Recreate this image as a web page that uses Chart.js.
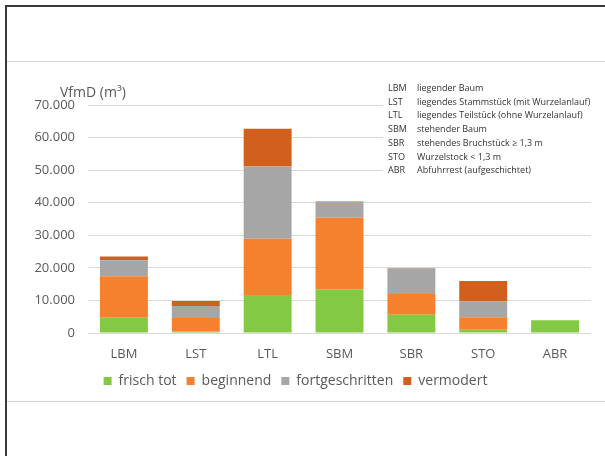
<!DOCTYPE html>
<html>
<head>
<meta charset="utf-8">
<script src="https://cdn.jsdelivr.net/npm/chart.js@4"></script>
<style>
  body { margin: 0; width: 605px; height: 456px; overflow: hidden; background: #fff; font-family: 'Open Sans', sans-serif; }
  .frame { position: absolute; left: 5px; top: 5px; width: 620px; height: 470px; border-top: 2px solid #3a3a3a; border-left: 2px solid #3a3a3a; }
  .rule { position: absolute; left: 7px; width: 600px; height: 1px; background: #d4d4d4; }
  #box { position: absolute; left: 0; top: 63px; width: 605px; height: 337px; }
</style>
</head>
<body>
<div class="frame"></div>
<div class="rule" style="top:61px"></div>
<div class="rule" style="top:401px"></div>
<div id="box"><canvas id="chart"></canvas></div>
<script>
const categories = ['LBM', 'LST', 'LTL', 'SBM', 'SBR', 'STO', 'ABR']
const frischTot = [4700, 500, 11700, 13400, 5600, 1000, 3900]
const beginnend = [12700, 4100, 17200, 22000, 6400, 3800, 0]
const fortgeschritten = [4900, 3700, 22200, 4800, 7800, 4900, 0]
const vermodert = [1200, 1500, 11600, 200, 150, 6250, 0]
const yTicks = [0, 10000, 20000, 30000, 40000, 50000, 60000, 70000]

const abbrevs = ['LBM', 'LST', 'LTL', 'SBM', 'SBR', 'STO', 'ABR']
const meanings = [
  'liegender Baum',
  'liegendes Stammstück (mit Wurzelanlauf)',
  'liegendes Teilstück (ohne Wurzelanlauf)',
  'stehender Baum',
  'stehendes Bruchstück ≥ 1,3 m',
  'Wurzelstock < 1,3 m',
  'Abfuhrrest (aufgeschichtet)'
]

const textColor = '#595959'

// thousands with a dot, e.g. 70.000
function fmt(v) {
  return String(v).replace(/\B(?=(\d{3})+(?!\d))/g, '.')
}

// axis caption on top and the key of abbreviations in the corner
const extras = {
  id: 'extras',
  afterDraw(chart) {
    const ctx = chart.ctx
    ctx.save()
    ctx.fillStyle = textColor
    ctx.font = '14px "Open Sans"'
    ctx.textBaseline = 'middle'
    ctx.textAlign = 'left'
    ctx.fillText('VfmD (m³)', 60, 30)

    ctx.fillStyle = '#fff'
    ctx.fillRect(383, 14, 222, 106)
    ctx.fillStyle = '#333'
    ctx.font = '9px "Open Sans"'
    abbrevs.forEach((a, i) => {
      const y = 25.5 + i * 13.7
      ctx.fillText(a, 388, y)
      ctx.fillText(meanings[i], 417, y, 184)
    })
    ctx.restore()
  }
}

new Chart(document.getElementById('chart'), {
  type: 'bar',
  data: {
    labels: categories,
    datasets: [
      { label: 'frisch tot', data: frischTot, backgroundColor: '#84c944' },
      { label: 'beginnend', data: beginnend, backgroundColor: '#f5802e' },
      { label: 'fortgeschritten', data: fortgeschritten, backgroundColor: '#a6a6a6' },
      { label: 'vermodert', data: vermodert, backgroundColor: '#d0601b' }
    ]
  },
  options: {
    responsive: true,
    maintainAspectRatio: false,
    animation: false,
    categoryPercentage: 1,
    barPercentage: 0.667,
    layout: { padding: { top: 42, right: 14, bottom: 2, left: 0 } },
    scales: {
      x: {
        stacked: true,
        grid: { display: false, drawTicks: false },
        border: { display: false },
        ticks: { color: textColor, font: { family: 'Open Sans', size: 13 }, padding: 13 },
        afterFit(s) { s.height = 31 }
      },
      y: {
        stacked: true,
        min: 0,
        max: 70000,
        grid: { color: '#d9d9d9', drawTicks: false },
        border: { display: false },
        afterBuildTicks(s) { s.ticks = yTicks.map(v => ({ value: v })) },
        ticks: {
          color: textColor,
          font: { family: 'Open Sans', size: 13 },
          padding: 13,
          callback: v => fmt(v)
        },
        afterFit(s) { s.width = 88 }
      }
    },
    plugins: {
      legend: {
        position: 'bottom',
        labels: {
          color: textColor,
          font: { family: 'Open Sans', size: 14 },
          boxWidth: 8,
          boxHeight: 8,
          padding: 10
        }
      },
      tooltip: { enabled: false }
    }
  },
  plugins: [extras]
})
</script>
</body>
</html>
